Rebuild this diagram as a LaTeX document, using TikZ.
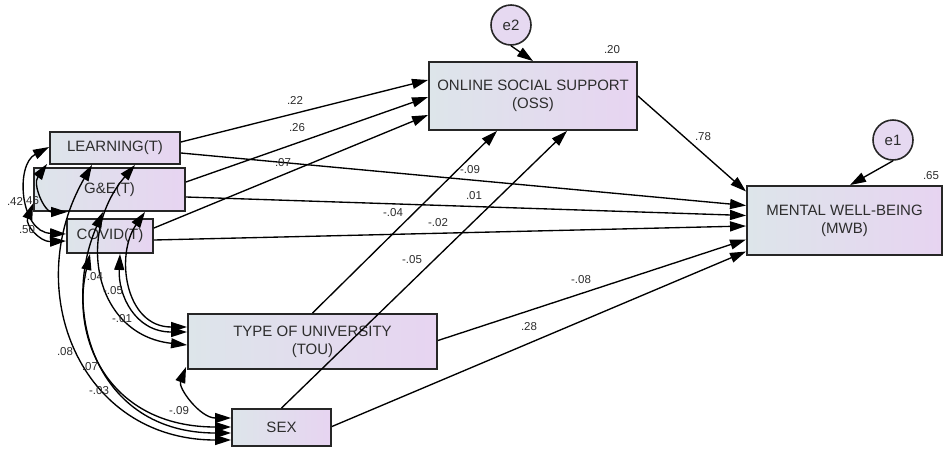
\documentclass[tikz,border=0pt]{standalone}
\usepackage{fontspec}
\setmainfont{Liberation Sans}
\usetikzlibrary{arrows.meta,calc}
\definecolor{boxL}{RGB}{221,229,234}
\definecolor{boxR}{RGB}{231,212,241}
\definecolor{circF}{RGB}{230,217,241}
\definecolor{txt}{RGB}{45,45,45}
\begin{document}
\begin{tikzpicture}[x=1pt,y=-1pt,
  varbox/.style={draw=black!85,line width=1.9pt,left color=boxL,right color=boxR,
    inner sep=0pt,font=\fontsize{15}{18}\selectfont,text=txt,align=center},
  errc/.style={circle,draw=black!85,line width=1.6pt,fill=circF,minimum size=40pt,
    inner sep=0pt,font=\fontsize{15}{18}\selectfont,text=txt},
  reg/.style={-{Triangle[length=16pt,width=10pt]},line width=1.35pt},
  covs/.style={{Triangle[length=16pt,width=10pt]}-{Triangle[length=16pt,width=10pt]},line width=1.35pt},
  lbl/.style={font=\fontsize{11.5}{13}\selectfont,text=txt,inner sep=0pt}]
\useasboundingbox (0,0) rectangle (945,448);

% boxes
\node[varbox,minimum width=130pt,minimum height=32pt] (lrn) at (115,148) {LEARNING(T)};
\node[varbox,minimum width=151pt,minimum height=43pt] (ge) at (109.5,189.5) {G\&E(T)};
\node[varbox,minimum width=86pt,minimum height=34pt] (covid) at (110,236) {COVID(T)};
\node[varbox,minimum width=249pt,minimum height=55pt] (tou) at (312.5,341.5) {TYPE OF UNIVERSITY\\(TOU)};
\node[varbox,minimum width=99pt,minimum height=37pt] (sex) at (281.5,427.5) {SEX};
\node[varbox,minimum width=208pt,minimum height=68pt] (oss) at (533,96) {ONLINE SOCIAL SUPPORT\\(OSS)};
\node[varbox,minimum width=195pt,minimum height=69pt] (mwb) at (844.5,220.5) {MENTAL WELL-BEING\\(MWB)};
\node[errc] (e2) at (511,25) {e2};
\node[errc] (e1) at (893,140) {e1};

% regression paths
\draw[reg] ([yshift=6pt]lrn.east) -- ([yshift=16pt]oss.west);
\draw[reg] ([yshift=7.5pt]ge.east) -- ([yshift=-1pt]oss.west);
\draw[reg] ([yshift=8pt]covid.east) -- ([yshift=-19pt]oss.west);
\draw[reg] (tou.north) -- ([xshift=-36pt]oss.south);
\draw[reg] (sex.north) -- ([xshift=34pt]oss.south);
\draw[reg] (oss.east) -- ([yshift=29pt]mwb.west);
\draw[reg] ([yshift=-5pt]lrn.east) -- ([yshift=15pt]mwb.west);
\draw[reg] ([yshift=-7.5pt]ge.east) -- ([yshift=5pt]mwb.west);
\draw[reg] ([yshift=-4pt]covid.east) -- ([yshift=-5.5pt]mwb.west);
\draw[reg] ([yshift=1pt]tou.east) -- ([yshift=-19pt]mwb.west);
\draw[reg] ([yshift=1pt]sex.east) -- ([yshift=-31pt]mwb.west);
\draw[reg] (e2.south) -- (oss.north);
\draw[reg] (e1.south) -- ([xshift=5.5pt]mwb.north);

% covariances
\draw[covs] ([yshift=1pt]lrn.west) .. controls (15,165) and (20,232) .. ([yshift=2pt]covid.west);
\draw[covs] ([xshift=-2pt,yshift=1pt]lrn.south west) .. controls (32,185) and (45,212) .. ([xshift=34pt]ge.south west);
\draw[covs] ([yshift=-14pt]ge.west) .. controls (25,225) and (40,242) .. ([yshift=-5pt]covid.west);
\draw[covs] ([xshift=-23pt]lrn.south) .. controls (20,290) and (80,440) .. ([yshift=-12.5pt]sex.west);
\draw[covs] ([xshift=-6.5pt]ge.south) .. controls (60,310) and (95,433) .. ([yshift=-5.5pt]sex.west);
\draw[covs] ([xshift=-20pt]covid.south) .. controls (70,340) and (110,427) .. ([yshift=0.5pt]sex.west);
\draw[covs] ([xshift=20pt]lrn.south) .. controls (75,235) and (95,335) .. ([yshift=-3.5pt]tou.west);
\draw[covs] ([xshift=35.5pt]ge.south) .. controls (115,255) and (125,327) .. ([yshift=14.5pt]tou.west);
\draw[covs] ([xshift=10pt]covid.south) .. controls (118,295) and (135,332) .. ([yshift=9.5pt]tou.west);
\draw[covs] ([yshift=9.5pt]sex.west) .. controls (200,418) and (178,388) .. ([xshift=-1pt,yshift=3pt]tou.south west);

% path labels
\node[lbl] (p1) at (295,100) {.22};
\node[lbl] (p2) at (297,128) {.26};
\node[lbl] (p3) at (283,163) {.07};
\node[lbl] (p4) at (470,170) {-.09};
\node[lbl] (p5) at (474,196) {.01};
\node[lbl] (p6) at (393,213) {-.04};
\node[lbl] (p7) at (438,223) {-.02};
\node[lbl] (p8) at (412,260) {-.05};
\node[lbl] (p9) at (581,280) {-.08};
\node[lbl] (p10) at (529,327) {.28};
\node[lbl] (p11) at (703,137) {.78};
\node[lbl] (r1) at (612,50) {.20};
\node[lbl] (r2) at (931,176) {.65};
% covariance labels
\node[lbl] (c1) at (15,201) {.42};
\node[lbl] (c2) at (31,201) {.46};
\node[lbl] (c3) at (27,230) {.50};
\node[lbl] (c4) at (93,277) {-.04};
\node[lbl] (c5) at (113,291) {-.05};
\node[lbl] (c6) at (122,319) {-.01};
\node[lbl] (c7) at (65,352) {.08};
\node[lbl] (c8) at (90,367) {.07};
\node[lbl] (c9) at (99,391) {-.03};
\node[lbl] (c10) at (179,411) {-.09};
\end{tikzpicture}
\end{document}
